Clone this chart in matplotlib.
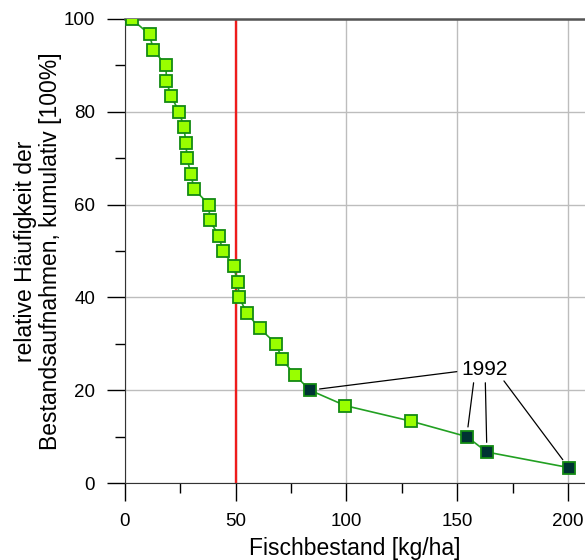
import matplotlib
matplotlib.use("Agg")
import matplotlib.pyplot as plt
from matplotlib.ticker import MultipleLocator

plt.rcParams['font.family'] = ['Liberation Sans', 'DejaVu Sans']

# fish stock per survey [kg/ha], sorted descending in frequency
bestand = [3.0, 11.1, 12.8, 18.5, 18.7, 20.8, 24.5, 26.6, 27.5, 28.0,
           29.7, 31.2, 37.9, 38.2, 42.3, 44.2, 49.1, 50.9, 51.6, 54.9,
           60.8, 68.2, 70.9, 76.6, 83.5, 99.5, 129.1, 154.3, 163.4, 200.3]
haeufigkeit = [100.0, 96.67, 93.33, 90.0, 86.67, 83.33, 80.0, 76.67, 73.33, 70.0,
               66.67, 63.33, 60.0, 56.67, 53.33, 50.0, 46.67, 43.33, 40.0, 36.67,
               33.33, 30.0, 26.67, 23.33, 20.0, 16.67, 13.33, 10.0, 6.67, 3.33]
jahr1992 = [24, 27, 28, 29]  # indices of the 1992 surveys

grenze = 50
label_pos = (162.5, 24.5)
line_starts = [(149.8, 24.0), (157.4, 21.6), (162.7, 21.6), (171.1, 22.0)]

fig = plt.figure(figsize=(5.85, 5.6), dpi=100)
ax = fig.add_axes([125 / 585, 77 / 560, 1 - 125 / 585, 464 / 560])

ax.grid(True, which='major', color='#bdbdbd', linewidth=1.0, zorder=0)
ax.axvline(grenze, color='#ee1c1c', linewidth=1.7, zorder=2.5)

ax.plot(bestand, haeufigkeit, color='#22a022', linewidth=1.2, zorder=3)
hell = [i for i in range(len(bestand)) if i not in jahr1992]
ax.plot([bestand[i] for i in hell], [haeufigkeit[i] for i in hell], 's', ls='none',
        markersize=8.6, markerfacecolor='#99ff00', markeredgecolor='#138a13',
        markeredgewidth=1.3, zorder=4)
ax.plot([bestand[i] for i in jahr1992], [haeufigkeit[i] for i in jahr1992], 's', ls='none',
        markersize=8.6, markerfacecolor='#003333', markeredgecolor='#138a13',
        markeredgewidth=1.3, zorder=4)

ax.text(label_pos[0], label_pos[1], '1992', fontsize=15, ha='center', va='center')
for i, start in zip(jahr1992, line_starts):
    ax.annotate('', xy=(bestand[i], haeufigkeit[i]), xytext=start,
                arrowprops=dict(arrowstyle='-', color='black', linewidth=0.9,
                                shrinkA=0, shrinkB=7))

ax.set_xlim(0, 207.7)
ax.set_ylim(0, 100)
ax.xaxis.set_major_locator(MultipleLocator(50))
ax.xaxis.set_minor_locator(MultipleLocator(25))
ax.yaxis.set_major_locator(MultipleLocator(20))
ax.yaxis.set_minor_locator(MultipleLocator(10))
ax.tick_params(which='major', length=13, width=1, direction='out', labelsize=13.5, pad=8.5)
ax.tick_params(which='minor', length=7, width=1, direction='out')

ax.spines['right'].set_visible(False)
ax.spines['top'].set_color('#555555')
ax.spines['top'].set_linewidth(1.8)
for s in ['left', 'bottom']:
    ax.spines[s].set_color('#333333')

ax.set_xlabel('Fischbestand [kg/ha]', fontsize=16.5, labelpad=5)
ax.set_ylabel('relative Häufigkeit der\nBestandsaufnahmen, kumulativ [100%]', fontsize=16.5,
              labelpad=1, linespacing=1.12)

fig.savefig('out.png', dpi=100)
